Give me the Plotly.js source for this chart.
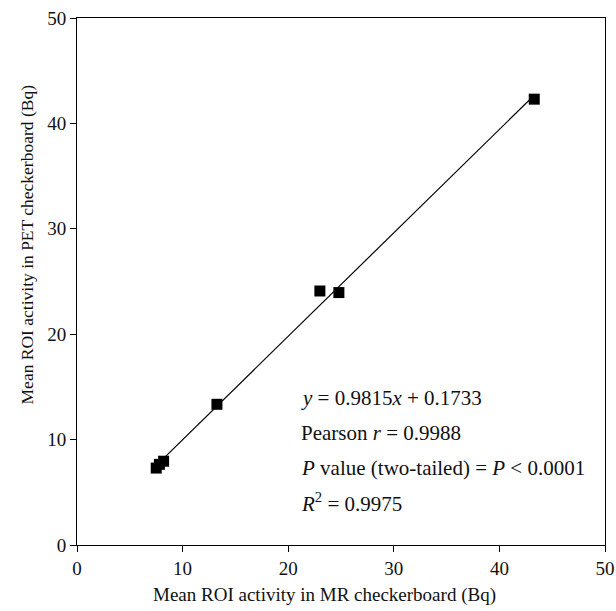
<!DOCTYPE html>
<html>
<head>
<meta charset="utf-8">
<script src="https://cdn.plot.ly/plotly-3.0.1.min.js"></script>
<style>html,body{margin:0;padding:0;background:#fff;}#chart{width:616px;height:611px;}</style>
</head>
<body>
<div id="chart"></div>
<script>
// Data
var mrActivity  = [7.5, 7.8, 8.2, 13.25, 23.0, 24.8, 43.3];
var petActivity = [7.3, 7.65, 7.95, 13.35, 24.1, 23.95, 42.3];
var fitSlope = 0.9815;
var fitIntercept = 0.1733;
var tickValues = [0, 10, 20, 30, 40, 50];
var xTitle = 'Mean ROI activity in MR checkerboard (Bq)';
var yTitle = 'Mean ROI activity in PET checkerboard (Bq)';
var statLines = [
  '<i>y</i> = 0.9815<i>x</i> + 0.1733',
  'Pearson <i>r</i> = 0.9988',
  '<i>P</i> value (two-tailed) = <i>P</i> < 0.0001',
  '<i>R</i><sup>2</sup> = 0.9975'
];

var xMin = Math.min.apply(null, mrActivity);
var xMax = Math.max.apply(null, mrActivity);
var fitX = [xMin, xMax];
var fitY = fitX.map(function (v) { return fitSlope * v + fitIntercept; });

var fam = '"Liberation Serif", "DejaVu Serif", serif';
var tickFont = {family: fam, size: 19, color: '#111'};
var xTitleFont = {family: fam, size: 19, color: '#111'};
var yTitleFont = {family: fam, size: 17.5, color: '#111'};
var statFont = {family: fam, size: 21, color: '#111'};

var traces = [
  {x: fitX, y: fitY, type: 'scatter', mode: 'lines', line: {color: '#000', width: 1.2}, hoverinfo: 'skip', showlegend: false},
  {x: mrActivity, y: petActivity, type: 'scatter', mode: 'markers',
   marker: {symbol: 'square', size: 11, color: '#000'}, showlegend: false}
];

var annotations = statLines.map(function (t, i) {
  return {xref: 'paper', yref: 'paper', x: 0.42, y: 0.278 - i * 0.066, xanchor: 'left', yanchor: 'middle',
          text: t, showarrow: false, font: statFont};
});
annotations.push({xref: 'paper', yref: 'paper', x: 0.468, y: -0.095, xanchor: 'center', yanchor: 'middle',
  text: xTitle, showarrow: false, font: xTitleFont});
annotations.push({xref: 'paper', yref: 'paper', x: -0.095, y: 0.57, xanchor: 'center', yanchor: 'middle',
  textangle: -90, text: yTitle, showarrow: false, font: yTitleFont});

var axisBase = {range: [0, 50], tickvals: tickValues, ticks: 'outside', ticklen: 6, tickcolor: '#000',
  showline: true, linecolor: '#000', linewidth: 1, mirror: true, showgrid: false, zeroline: false,
  tickfont: tickFont};

var layout = {
  width: 616, height: 611,
  margin: {l: 77, r: 11, t: 18, b: 66},
  paper_bgcolor: '#fff', plot_bgcolor: '#fff',
  font: tickFont,
  xaxis: Object.assign({}, axisBase),
  yaxis: Object.assign({}, axisBase),
  annotations: annotations
};

Plotly.newPlot('chart', traces, layout, {displayModeBar: false, staticPlot: true});
</script>
</body>
</html>
